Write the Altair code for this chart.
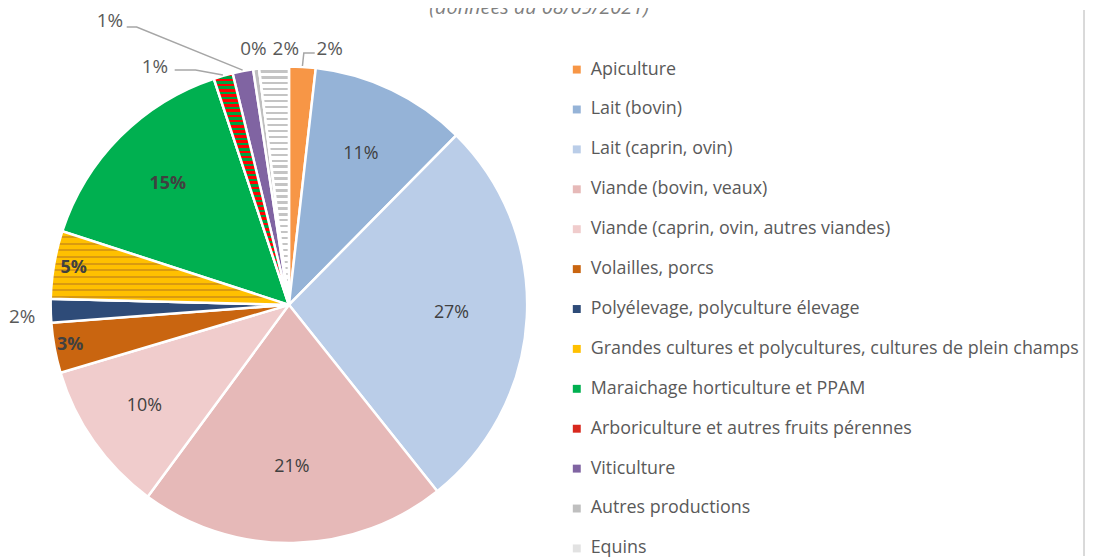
import math
import altair as alt
import pandas as pd

# ---------------- data ----------------
categories = [
    "Apiculture",
    "Lait (bovin)",
    "Lait (caprin, ovin)",
    "Viande (bovin, veaux)",
    "Viande (caprin, ovin, autres viandes)",
    "Volailles, porcs",
    "Polyélevage, polyculture élevage",
    "Grandes cultures et polycultures, cultures de plein champs",
    "Maraichage horticulture et PPAM",
    "Arboriculture et autres fruits pérennes",
    "Viticulture",
    "Autres productions",
    "Equins",
]
shares = [1.8, 10.6, 26.9, 20.8, 10.3, 3.4, 1.6, 4.6, 14.9, 1.3, 1.4, 0.4, 2.0]
subtitle = "(données au 08/09/2021)"

# ---------------- style ----------------
colors = [
    "#F79646", "#95B3D7", "#BACDE8", "#E6B9B8", "#F0CCCC", "#C96510",
    "#2E4B78", "#FFC000", "#00B050", "#D8281E", "#8064A2", "#BFBFBF", "#E2E2E2",
]
FONT = "Open Sans"
W, H = 1087, 550
CX, CY, R = 283, 297, 240
# label placement (radius in px, angular nudge in degrees, kind)
label_r = [261, 168, 164, 163, 178, 224, 269, 220, 172, 275, 338, 260, 258]
label_shift = [5.8, 0, 0, 0, 0, 0, -1.2, 0, 0, -13.4, -21.1, 0, 2.9]
label_kind = ["out", "in", "in", "in", "in", "bold", "out", "bold", "bold",
              "out", "out", "out", "out"]
# leader lines: offsets from label centre of (end point, elbow point)
leaders = {
    "Apiculture": [(-15, 4), (-26, 4)],
    "Arboriculture et autres fruits pérennes": [(20, 3), (41, 3)],
    "Viticulture": [(17, 6), (27, 6)],
}


def stripes(c1, c2, n, frac):
    stops = []
    for i in range(n):
        a, m, b = i / n, (i + frac) / n, (i + 1) / n
        stops += [{"offset": a, "color": c1}, {"offset": m, "color": c1},
                  {"offset": m, "color": c2}, {"offset": b, "color": c2}]
    return {"gradient": "linear", "x1": 0, "y1": 0, "x2": 0, "y2": 1, "stops": stops}


textures = {
    "Equins": stripes("#FFFFFF", "#C4C4C4", 40, 0.6),
    "Arboriculture et autres fruits pérennes": stripes("#FF0000", "#00A040", 45, 0.55),
    "Grandes cultures et polycultures, cultures de plein champs": stripes("#FFC000", "#D99A10", 11, 0.7),
}

df = pd.DataFrame({"cat": categories, "value": shares, "idx": range(len(categories))})

# label positions derived from the cumulative shares
total = sum(shares)
rows = []
leader_rows = []
cum = 0.0
for i, (c, v) in enumerate(zip(categories, shares)):
    mid = (cum + v / 2) / total * 2 * math.pi
    cum += v
    ang = mid + math.radians(label_shift[i])
    lx = CX + label_r[i] * math.sin(ang)
    ly = CY - label_r[i] * math.cos(ang)
    rows.append({"cat": c, "label": f"{round(v)}%", "kind": label_kind[i], "lx": lx, "ly": ly})
    if c in leaders:
        (ex, ey), (bx, by) = leaders[c]
        pts = [
            (CX + (R + 1) * math.sin(mid), CY - (R + 1) * math.cos(mid)),
            (lx + bx, ly + by),
            (lx + ex, ly + ey),
        ]
        for k, (px, py) in enumerate(pts):
            leader_rows.append({"cat": c, "k": k, "px": px, "py": py})
labels = pd.DataFrame(rows)
leader_df = pd.DataFrame(leader_rows)

arc_enc = dict(
    theta=alt.Theta("value:Q", stack=True),
    order=alt.Order("idx:Q"),
    x=alt.value(CX),
    y=alt.value(CY),
)

pie = alt.Chart(df).mark_arc(radius=R, stroke="white", strokeWidth=2.5).encode(
    color=alt.Color(
        "cat:N",
        scale=alt.Scale(domain=categories, range=colors),
        sort=categories,
        legend=alt.Legend(
            title=None,
            orient="none",
            legendX=564,
            legendY=51,
            symbolType="square",
            symbolSize=64,
            symbolStrokeWidth=0,
            labelFont=FONT,
            labelFontSize=18,
            labelColor="#595959",
            labelOffset=5,
            labelLimit=600,
            rowPadding=22.2,
            padding=0,
        ),
    ),
    **arc_enc,
)

texture_layers = [
    alt.Chart(df).mark_arc(radius=R, stroke="white", strokeWidth=2.5).encode(
        fill=alt.value(grad),
        opacity=alt.condition(f"datum.cat == '{name}'", alt.value(1), alt.value(0)),
        **arc_enc,
    )
    for name, grad in textures.items()
]

base_lab = alt.Chart(labels)
xenc = alt.X("lx:Q", scale=None, axis=None)
yenc = alt.Y("ly:Q", scale=None, axis=None)

lab_in = base_lab.transform_filter("datum.kind == 'in'").mark_text(
    font=FONT, fontSize=18, color="#404040", align="center", baseline="middle"
).encode(x=xenc, y=yenc, text="label:N")
lab_bold = base_lab.transform_filter("datum.kind == 'bold'").mark_text(
    font=FONT, fontSize=18, fontWeight="bold", color="#404040", align="center", baseline="middle"
).encode(x=xenc, y=yenc, text="label:N")
lab_out = base_lab.transform_filter("datum.kind == 'out'").mark_text(
    font=FONT, fontSize=19, color="#595959", align="center", baseline="middle"
).encode(x=xenc, y=yenc, text="label:N")

lead = alt.Chart(leader_df).mark_line(color="#A6A6A6", strokeWidth=1.5).encode(
    x=alt.X("px:Q", scale=None, axis=None),
    y=alt.Y("py:Q", scale=None, axis=None),
    detail="cat:N",
    order="k:Q",
)

title_df = pd.DataFrame({"t": [subtitle]})
title = alt.Chart(title_df).mark_text(
    font=FONT, fontSize=20, fontStyle="italic", color="#7F7F7F", align="center", baseline="alphabetic"
).encode(x=alt.value(535), y=alt.value(4), text="t:N")

border = alt.Chart(title_df).mark_rule(color="#D9D9D9", strokeWidth=2).encode(
    x=alt.value(1084), y=alt.value(0), y2=alt.value(H)
)

chart = alt.layer(pie, *texture_layers, lead, lab_in, lab_bold, lab_out, title, border).properties(
    width=W, height=H, autosize=alt.AutoSizeParams(type="none"), padding=0
).configure_view(stroke=None)

chart.save("out.html", embed_options={"renderer": "svg", "actions": False})
